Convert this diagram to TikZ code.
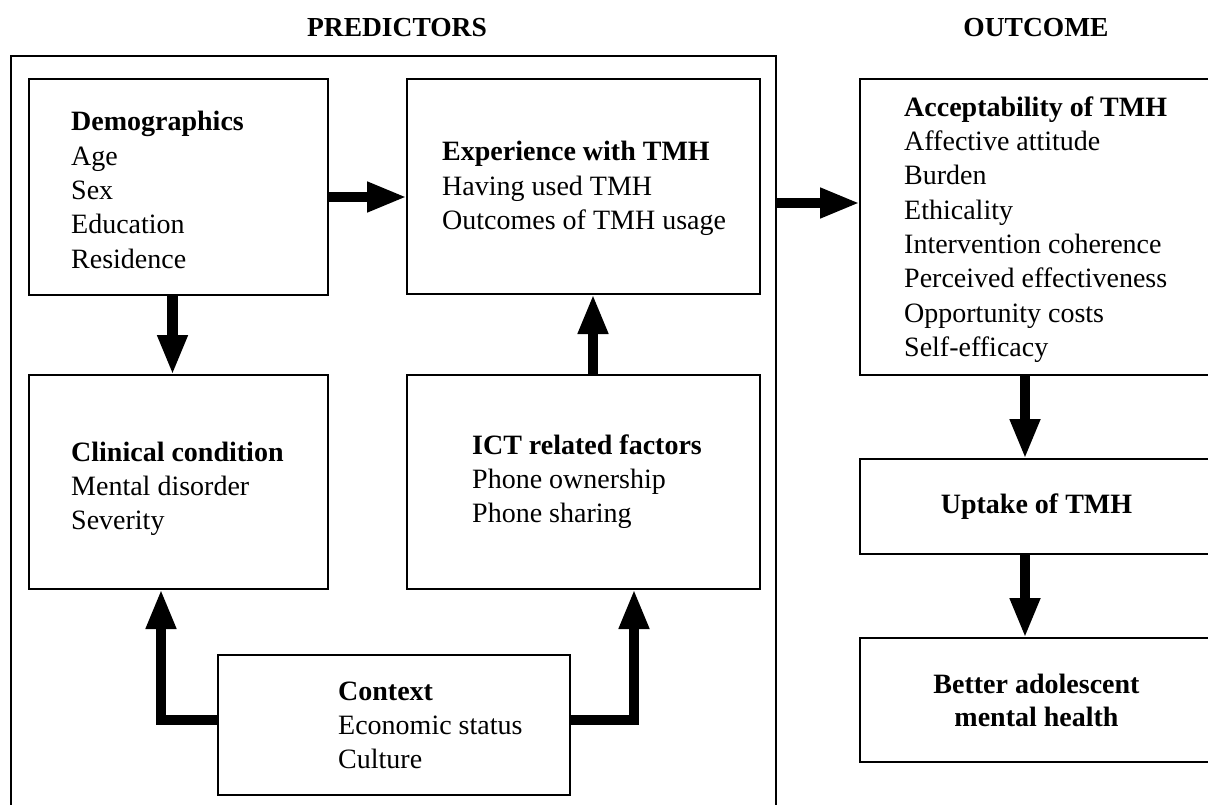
\documentclass[tikz,border=0pt]{standalone}
\usepackage{fontspec}
\setmainfont{Liberation Serif}
\usetikzlibrary{fit,arrows.meta}
\tikzset{
  box/.style={draw, line width=2pt, inner sep=0pt, outer sep=0pt},
  txt/.style={align=left, inner sep=0pt, font=\fontsize{28}{34.3}\selectfont},
  ttl/.style={inner sep=0pt, font=\fontsize{27.5}{32}\selectfont\bfseries},
  arr/.style={line width=10.5pt, -{Triangle[length=40pt,width=28pt]}}
}
\begin{document}
\begin{tikzpicture}[x=1pt,y=-1pt]
\useasboundingbox (0,0) rectangle (1208,805);
\clip (0,0) rectangle (1208,805);
% titles
\node[ttl] (tpred) at (397,28) {PREDICTORS};
\node[ttl] (tout) at (1036,28) {OUTCOME};
% boxes
\node[box, fit={(11,56) (776,830)}] (pred) {};
\node[box, fit={(29,79) (328,295)}] (demo) {};
\node[box, fit={(407,79) (760,294)}] (exp) {};
\node[box, fit={(29,375) (328,589)}] (clin) {};
\node[box, fit={(407,375) (760,589)}] (ict) {};
\node[box, fit={(218,655) (570,795)}] (ctx) {};
\node[box, fit={(860,79) (1213,375)}] (acc) {};
\node[box, fit={(860,459) (1213,554)}] (upt) {};
\node[box, fit={(860,638) (1213,762)}] (bet) {};
% texts
\node[txt, anchor=west] (demoT) at (71,190) {\textbf{Demographics}\\Age\\Sex\\Education\\Residence};
\node[txt, anchor=west] (expT) at (442,188.5) {\textbf{Experience with TMH}\\Having used TMH\\Outcomes of TMH usage};
\node[txt, anchor=west] (clinT) at (71,489) {\textbf{Clinical condition}\\Mental disorder\\Severity};
\node[txt, anchor=west] (ictT) at (472,481.5) {\textbf{ICT related factors}\\Phone ownership\\Phone sharing};
\node[txt, anchor=west] (ctxT) at (338,725.5) {\textbf{Context}\\Economic status\\Culture};
\node[txt, anchor=west] (accT) at (904,229.5) {\textbf{Acceptability of TMH}\\Affective attitude\\Burden\\Ethicality\\Intervention coherence\\Perceived effectiveness\\Opportunity costs\\Self-efficacy};
\node[txt, align=center, font=\fontsize{28}{34.3}\selectfont\bfseries] (uptT) at (upt.center) {Uptake of TMH};
\node[txt, align=center, font=\fontsize{28}{33}\selectfont\bfseries] (betT) at (bet.center) {Better adolescent\\mental health};
% arrows
\draw[arr] (demo.east |- 0,197) -- (exp.west |- 0,197);
\draw[arr] (172.5,0 |- demo.south) -- (172.5,0 |- clin.north);
\draw[arr] (593,0 |- ict.north) -- (593,0 |- exp.south);
\draw[arr] (ctx.west |- 0,720) -| (clin.south -| 161,0);
\draw[arr] (ctx.east |- 0,720) -| (ict.south -| 634,0);
\draw[arr] (pred.east |- 0,203) -- (acc.west |- 0,203);
\draw[arr] (1025,0 |- acc.south) -- (1025,0 |- upt.north);
\draw[arr] (1025,0 |- upt.south) -- (1025,0 |- bet.north);
\end{tikzpicture}
\end{document}
